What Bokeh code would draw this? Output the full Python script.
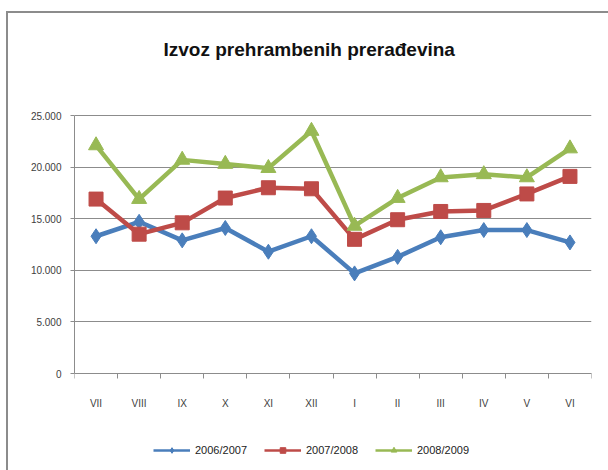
from bokeh.plotting import figure
from bokeh.models import FixedTicker, Legend, LegendItem, ColumnDataSource, Range1d, Label
from bokeh.embed import file_html
from bokeh.resources import INLINE

# ---- data ----
months = ["VII", "VIII", "IX", "X", "XI", "XII", "I", "II", "III", "IV", "V", "VI"]
s_2006_2007 = [13300, 14700, 12900, 14100, 11800, 13300, 9700, 11300, 13200, 13900, 13900, 12700]
s_2007_2008 = [16900, 13500, 14600, 17000, 18000, 17900, 13000, 14900, 15700, 15800, 17400, 19100]
s_2008_2009 = [22100, 16900, 20700, 20300, 19900, 23500, 14300, 17000, 19000, 19300, 19000, 21800]
series_names = ["2006/2007", "2007/2008", "2008/2009"]
y_ticks = [0, 5000, 10000, 15000, 20000, 25000]
title_text = "Izvoz prehrambenih prerađevina"

colors = ["#4A7EBB", "#BE4B48", "#98B954"]
markers = ["diamond", "square", "triangle"]
msizes = [15, 14, 15]
legend_msizes = [7, 7, 7]
label_font = "Liberation Sans"

x_pos = [i + 0.5 for i in range(len(months))]
bounds = list(range(len(months) + 1))

# the frame covers the whole chart box; the value axis spans 0..25000 only
y_min, y_max = y_ticks[0], y_ticks[-1]
px_per_unit = 258 / (y_max - y_min)
view_lo = y_min - 97 / px_per_unit
view_hi = y_max + 102 / px_per_unit

p = figure(frame_width=517, frame_height=457, output_backend="svg", toolbar_location=None,
           x_range=Range1d(0, len(months)), y_range=Range1d(view_lo, view_hi),
           min_border_left=66, min_border_top=0, min_border_right=17, min_border_bottom=0)
p.styles = {"margin-left": "6px", "margin-top": "11px",
            "border-left": "2px solid #8c8c8c", "border-top": "2px solid #8c8c8c"}

p.outline_line_color = None
p.background_fill_color = "white"
p.border_fill_color = "white"

# title
p.add_layout(Label(x=89, y=421, x_units="screen", y_units="screen", text=title_text,
                   text_font="Liberation Sans", text_font_size="19px", text_font_style="bold",
                   text_color="#111111", text_baseline="alphabetic", text_align="left"))

# axes
p.xaxis.fixed_location = 0
p.xaxis.ticker = FixedTicker(ticks=x_pos, minor_ticks=bounds)
p.xaxis.major_label_overrides = {x: m for x, m in zip(x_pos, months)}
p.xaxis.major_tick_out = 0
p.xaxis.major_tick_in = 0
p.xaxis.minor_tick_out = 5
p.xaxis.minor_tick_in = 0
p.xaxis.minor_tick_line_color = "#8c8c8c"
p.xaxis.axis_line_color = "#8c8c8c"
p.xaxis.major_label_standoff = 19
p.xaxis.major_label_text_font = label_font
p.xaxis.major_label_text_font_size = "10px"
p.xaxis.major_label_text_color = "#404040"

p.yaxis.ticker = FixedTicker(ticks=y_ticks, minor_ticks=[])
p.yaxis.bounds = (y_min, y_max)
p.yaxis.major_label_overrides = {v: f"{v:,}".replace(",", ".") for v in y_ticks}
p.yaxis.major_tick_out = 4
p.yaxis.major_tick_in = 0
p.yaxis.major_tick_line_color = "#8c8c8c"
p.yaxis.axis_line_color = "#8c8c8c"
p.yaxis.major_label_standoff = 9
p.yaxis.major_label_text_font = label_font
p.yaxis.major_label_text_font_size = "10px"
p.yaxis.major_label_text_color = "#404040"

p.xgrid.grid_line_color = None
p.ygrid.grid_line_color = "#8c8c8c"
p.ygrid.grid_line_width = 1

items = []
for name, vals, c, mk, ms, lms in zip(series_names, [s_2006_2007, s_2007_2008, s_2008_2009],
                                       colors, markers, msizes, legend_msizes):
    src = ColumnDataSource(dict(x=x_pos, y=vals))
    # thin line + small markers used for the legend swatch (hidden under the main marks)
    lg_line = p.line("x", "y", source=src, line_color=c, line_width=2.5)
    lg_mark = p.scatter("x", "y", source=src, marker=mk, size=lms, fill_color=c, line_color=c)
    p.line("x", "y", source=src, line_color=c, line_width=4.5)
    p.scatter("x", "y", source=src, marker=mk, size=ms, fill_color=c, line_color=c)
    items.append(LegendItem(label=name, renderers=[lg_line, lg_mark]))

legend = Legend(items=items, orientation="horizontal", location=(79, 13),
                label_text_font=label_font, label_text_font_size="11px",
                label_text_color="#222222", glyph_width=37, glyph_height=14,
                label_standoff=5, spacing=17, padding=2, margin=0,
                border_line_color=None, background_fill_alpha=0)
p.add_layout(legend, "center")

open("out.html", "w").write(file_html(p, INLINE))
